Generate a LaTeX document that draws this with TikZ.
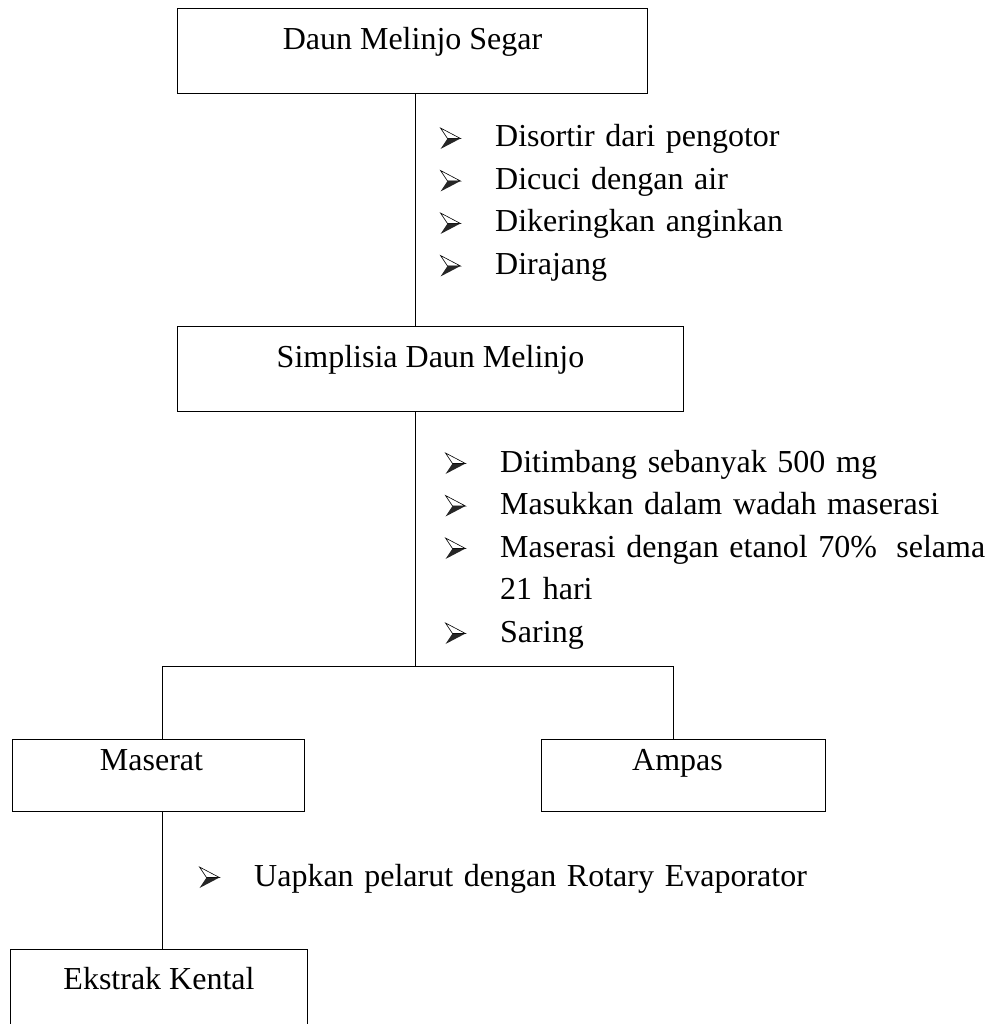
\documentclass[tikz,border=0pt]{standalone}
\usepackage{fontspec}
\setmainfont{Liberation Serif}
\usetikzlibrary{positioning}

% arrowhead bullet, top half light, bottom half dark
\newcommand{\bul}{\makebox[55pt][l]{\tikz[baseline=0pt, x=1pt, y=1pt, line width=0.6pt]{%
    \draw[fill=white] (0,19) -- (20,8.5) -- (7,8.5) -- cycle;
    \fill[black!85] (7,8.5) -- (20,8.5) -- (0,-2) -- cycle;}}}

\begin{document}
\begin{tikzpicture}[
    x=1pt, y=-1pt,
    every node/.style={font=\fontsize{32}{42.5}\selectfont},
    stage/.style={
        rectangle,
        draw=black,
        line width=1pt,
        inner sep=0pt,
        anchor=north west,
        text height=41pt,
        text depth=44pt
    },
    result/.style={
        stage,
        text height=31pt,
        text depth=41pt
    },
    steps/.style={
        inner sep=0pt,
        text width=540pt,
        align=left,
        anchor=base west
    },
    link/.style={line width=1pt}
]

\useasboundingbox (0,0) rectangle (992,1024);
\clip (0,0) rectangle (992,1024);

% --- boxes ---
\node (segar) [stage, minimum width=470pt] at (177,8) {Daun Melinjo Segar};
\node (simplisia) [stage, minimum width=506pt] at (177,326) {Simplisia Daun Melinjo};
\node (maserat) [result, minimum width=292pt] at (12,739) {Maserat\hspace*{14pt}};
\node (ampas) [result, minimum width=284pt] at (541,739) {Ampas\hspace*{12pt}};
\node (ekstrak) [stage, minimum width=297pt, text height=40pt, text depth=100pt] at (10,949) {Ekstrak Kental};

% --- steps ---
\node (sortasi) [steps] at (440,147) {\bul Disortir dari pengotor\\
    \bul Dicuci dengan air\\
    \bul Dikeringkan anginkan\\
    \bul Dirajang};
\node (maserasi) [steps] at (445,472) {\bul Ditimbang sebanyak 500 mg\\
    \bul Masukkan dalam wadah maserasi\\
    \bul Maserasi dengan etanol 70\%\hfill selama\\
    \hspace*{55pt}21 hari\\
    \bul Saring};
\node (uapkan) [steps, text width=760pt] at (199,886) {\bul Uapkan pelarut dengan Rotary Evaporator};

% --- lines ---
\coordinate (trunk) at (415,666);
\coordinate (lbranch) at (162,666);
\coordinate (rbranch) at (673,666);
\draw [link] (segar.south -| trunk) -- (simplisia.north -| trunk);
\draw [link] (simplisia.south -| trunk) -- (trunk);
\draw [link] (maserat.north -| lbranch) -- (lbranch) -- (rbranch) -- (ampas.north -| rbranch);
\draw [link] (maserat.south -| lbranch) -- (ekstrak.north -| lbranch);

\end{tikzpicture}
\end{document}
